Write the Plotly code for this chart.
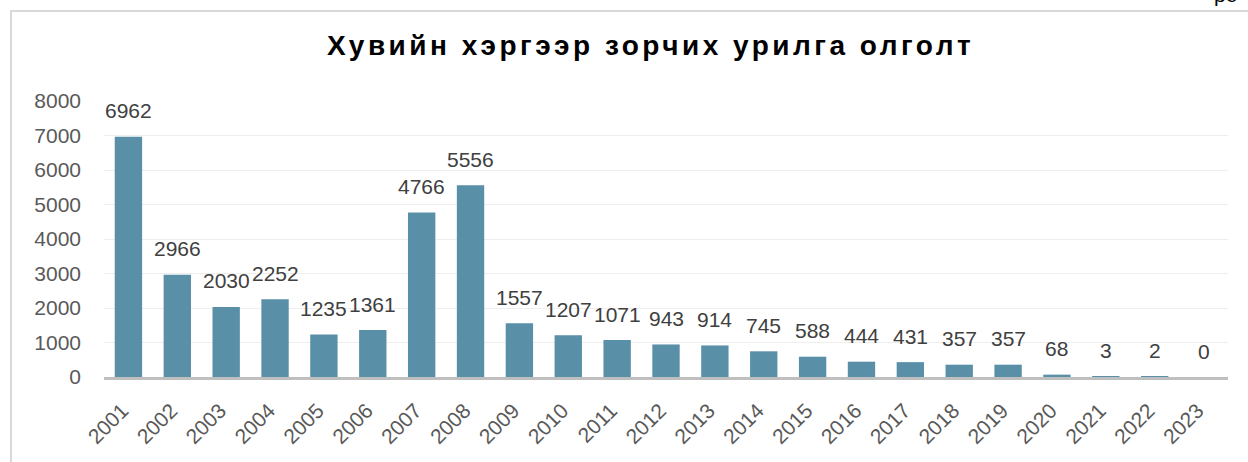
import plotly.graph_objects as go

years = [str(y) for y in range(2001, 2024)]
values = [6962, 2966, 2030, 2252, 1235, 1361, 4766, 5556, 1557, 1207, 1071, 943,
          914, 745, 588, 444, 431, 357, 357, 68, 3, 2, 0]
title_text = "Хувийн хэргээр зорчих урилга олголт"
y_ticks = [0, 1000, 2000, 3000, 4000, 5000, 6000, 7000, 8000]

W, H = 1248, 462
L, R, T, B = 104, 20, 101, 85
pw, ph = W - L - R, H - T - B

def px_x(p):
    return (p - L) / pw

def px_y(p):
    return (H - B - p) / ph

fig = go.Figure()
fig.add_trace(go.Bar(
    x=years, y=values,
    marker=dict(color="#5a8fa8", line=dict(width=0)),
    width=0.56,
    hoverinfo="x+y",
))

for i, v in enumerate(values):
    fig.add_annotation(
        x=i, y=v, text=str(v), showarrow=False,
        xref="x", yref="y",
        yanchor="middle", yshift=26,
        font=dict(family="Liberation Sans, Arial", size=21, color="#404040"),
    )

fig.add_annotation(
    xref="paper", yref="paper", x=px_x(650), y=px_y(45),
    text="<b><span style='letter-spacing:3.5px'>" + title_text + "</span></b>",
    showarrow=False,
    xanchor="center", yanchor="middle",
    font=dict(family="Liberation Sans, Arial", size=28, color="#000000"),
)

fig.add_annotation(
    xref="paper", yref="paper", x=px_x(1212), y=px_y(8),
    text="ре", showarrow=False, xanchor="left", yanchor="bottom",
    font=dict(family="Liberation Sans, Arial", size=21, color="#000000"),
)

fig.add_shape(
    type="rect", xref="paper", yref="paper",
    x0=px_x(11), x1=px_x(1300), y0=px_y(11), y1=px_y(520),
    line=dict(color="#d9d9d9", width=2), fillcolor="rgba(0,0,0,0)", layer="below",
)

fig.update_layout(
    width=W, height=H,
    margin=dict(l=L, r=R, t=T, b=B),
    paper_bgcolor="white", plot_bgcolor="white",
    showlegend=False,
    font=dict(family="Liberation Sans, Arial", color="#595959"),
    xaxis=dict(
        type="category", tickangle=-45, automargin=False,
        tickfont=dict(size=21, color="#595959"),
        showline=True, linecolor="#bfbfbf", linewidth=3,
        showgrid=False, ticks="", ticklen=0,
        ticklabelstandoff=10, ticklabelshift=-6,
        range=[-0.5, len(years) - 0.5],
    ),
    yaxis=dict(
        range=[0, 8000], tickvals=y_ticks, automargin=False,
        tickfont=dict(size=21, color="#595959"),
        showgrid=True, gridcolor="#eeeeee", gridwidth=1,
        zeroline=False, showline=False, ticks="",
        ticklabelstandoff=22,
    ),
)

fig.write_html(
    "out.html",
    config={"displayModeBar": False},
    post_script="document.body.style.margin='0';document.body.style.overflow='hidden';",
)
